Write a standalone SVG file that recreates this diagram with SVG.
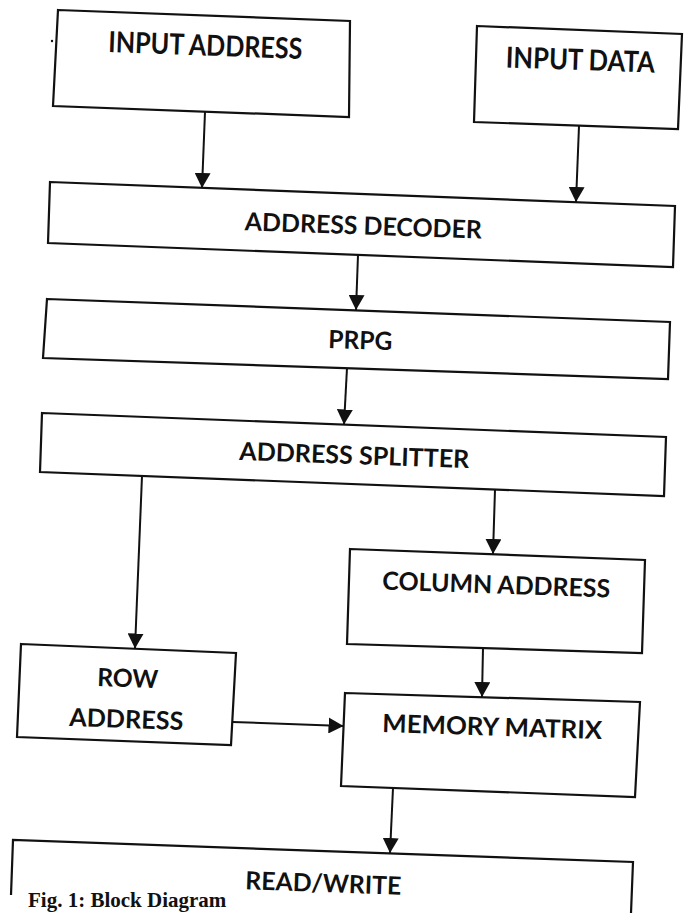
<svg xmlns="http://www.w3.org/2000/svg" width="684" height="913" viewBox="0 0 684 913">
<defs>
<style>
.box{fill:none;stroke:#111;stroke-width:2.2;stroke-linejoin:miter}
.lbl{font-family:Lato,"Open Sans","Liberation Sans",sans-serif;font-weight:bold;fill:#111;text-anchor:middle}
.big{font-size:29px}
.mid{font-size:25px}
.con{fill:none;stroke:#111;stroke-width:2}
.cap{font-family:"Liberation Serif","Times New Roman",serif;font-weight:bold;font-size:21px;fill:#111}
</style>
<marker id="ah" markerUnits="userSpaceOnUse" markerWidth="16" markerHeight="16" refX="15" refY="8" orient="auto">
<path d="M0,0 L15,8 L0,16 z" fill="#111"/>
</marker>
</defs>
<rect width="684" height="913" fill="#fff"/>
<circle cx="52" cy="41" r="1.2" fill="#111"/>

<g id="input-address">
<polygon class="box" points="58,10 350,21 349,117 53,106"/>
<text class="lbl big" x="205" y="55.5" textLength="194" lengthAdjust="spacingAndGlyphs" transform="rotate(2.1 205 55.5)">INPUT ADDRESS</text>
</g>
<g id="input-data">
<polygon class="box" points="477,26 682,34 678,129 474,122"/>
<text class="lbl big" x="580" y="70" textLength="149" lengthAdjust="spacingAndGlyphs" transform="rotate(2 580 70)">INPUT DATA</text>
</g>
<g id="address-decoder">
<polygon class="box" points="50,182 675,206 673,267 48,243"/>
<text class="lbl mid" x="363" y="234.5" textLength="237" lengthAdjust="spacingAndGlyphs" transform="rotate(2 363 234.5)">ADDRESS DECODER</text>
</g>
<g id="prpg">
<polygon class="box" points="47,299 670,322 668,379 43,358"/>
<text class="lbl mid" x="360" y="349" textLength="64" lengthAdjust="spacingAndGlyphs" transform="rotate(2 360 349)">PRPG</text>
</g>
<g id="address-splitter">
<polygon class="box" points="42,413 666,437 664,496 40,472"/>
<text class="lbl mid" x="354" y="464" textLength="230" lengthAdjust="spacingAndGlyphs" transform="rotate(2 354 464)">ADDRESS SPLITTER</text>
</g>
<g id="column-address">
<polygon class="box" points="350,549 645,560 642,653 347,644"/>
<text class="lbl mid" x="496" y="593.5" textLength="228" lengthAdjust="spacingAndGlyphs" transform="rotate(2 496 593.5)">COLUMN ADDRESS</text>
</g>
<g id="row-address">
<polygon class="box" points="21,644 236,653 231,745 17,737"/>
<text class="lbl mid" x="127.5" y="687" textLength="61" lengthAdjust="spacingAndGlyphs" transform="rotate(2 127.5 687)">ROW</text>
<text class="lbl mid" x="126" y="728" textLength="114" lengthAdjust="spacingAndGlyphs" transform="rotate(2 126 728)">ADDRESS</text>
</g>
<g id="memory-matrix">
<polygon class="box" points="345,693 640,702 635,797 341,786"/>
<text class="lbl mid" x="492" y="735.5" textLength="220" lengthAdjust="spacingAndGlyphs" transform="rotate(1.8 492 735.5)">MEMORY MATRIX</text>
</g>
<g id="read-write">
<path class="box" d="M11,895 L13,840 L633,862 L631,913"/>
<text class="lbl mid" x="323" y="892" textLength="156" lengthAdjust="spacingAndGlyphs" transform="rotate(2 323 892)">READ/WRITE</text>
</g>

<g id="connectors">
<line class="con" x1="205" y1="112" x2="202" y2="188" marker-end="url(#ah)"/>
<line class="con" x1="579" y1="126" x2="576" y2="202" marker-end="url(#ah)"/>
<line class="con" x1="358" y1="255" x2="356" y2="310" marker-end="url(#ah)"/>
<line class="con" x1="347" y1="368" x2="344" y2="424.5" marker-end="url(#ah)"/>
<line class="con" x1="142" y1="476" x2="135" y2="648.5" marker-end="url(#ah)"/>
<line class="con" x1="495" y1="489.5" x2="493" y2="554" marker-end="url(#ah)"/>
<line class="con" x1="483" y1="648" x2="482" y2="697" marker-end="url(#ah)"/>
<line class="con" x1="232.5" y1="722" x2="343.5" y2="726" marker-end="url(#ah)"/>
<line class="con" x1="393" y1="788" x2="390" y2="853" marker-end="url(#ah)"/>
</g>

<text class="cap" x="28" y="907">Fig. 1: Block Diagram</text>
</svg>
